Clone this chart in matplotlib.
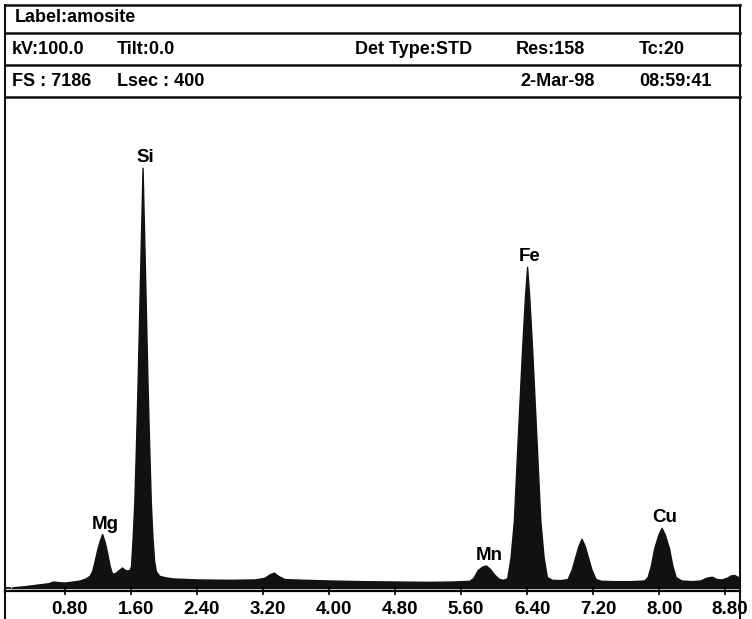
import matplotlib
matplotlib.use("Agg")
import matplotlib.pyplot as plt
from matplotlib.lines import Line2D
from matplotlib.transforms import ScaledTranslation

# spectrum (energy in keV, counts)
energy = [0.15, 0.20, 0.30, 0.40, 0.50, 0.60, 0.66, 0.72, 0.80, 0.90, 0.98, 1.05,
          1.10, 1.13, 1.16, 1.19, 1.22, 1.25, 1.28, 1.31, 1.34, 1.37, 1.41, 1.45,
          1.49, 1.53, 1.58, 1.60, 1.62, 1.64, 1.66, 1.68, 1.71, 1.74, 1.77, 1.80,
          1.82, 1.84, 1.86, 1.88, 1.90, 1.94, 2.00, 2.10, 2.40, 2.80, 3.10, 3.22,
          3.28, 3.33, 3.38, 3.46, 3.70, 4.00, 4.40, 4.80, 5.20, 5.50, 5.70, 5.75,
          5.80, 5.85, 5.90, 5.95, 6.00, 6.05, 6.10, 6.14, 6.16, 6.20, 6.24, 6.28,
          6.31, 6.34, 6.375, 6.40, 6.425, 6.46, 6.49, 6.52, 6.56, 6.60, 6.64, 6.70,
          6.80, 6.89, 6.94, 6.98, 7.02, 7.06, 7.10, 7.14, 7.18, 7.23, 7.30, 7.45,
          7.65, 7.82, 7.86, 7.90, 7.94, 7.99, 8.03, 8.07, 8.12, 8.16, 8.20, 8.27,
          8.40, 8.50, 8.57, 8.64, 8.70, 8.76, 8.82, 8.87, 8.91, 8.95, 8.98]
counts = [0, 15, 25, 40, 55, 70, 95, 85, 80, 95, 110, 140,
          180, 250, 400, 560, 690, 790, 680, 520, 330, 210, 220, 260,
          300, 260, 260, 320, 740, 1250, 2080, 3000, 4600, 6150, 4600, 3000,
          2080, 1250, 740, 400, 250, 180, 160, 140, 125, 120, 125, 150,
          200, 225, 180, 130, 120, 110, 100, 95, 90, 95, 105, 150,
          260, 310, 330, 280, 200, 140, 120, 130, 150, 450, 990, 2020,
          2770, 3520, 4280, 4700, 4280, 3520, 2770, 2020, 990, 450, 160, 120,
          115, 130, 270, 440, 610, 720, 610, 440, 270, 130, 105, 100,
          100, 110, 160, 330, 580, 780, 880, 780, 580, 330, 160, 110,
          100, 110, 150, 165, 130, 125, 150, 185, 190, 165, 140]

peak_names = ["Mg", "Si", "Mn", "Fe", "Cu"]
peak_energy = [1.25, 1.74, 5.90, 6.40, 8.03]
peak_counts = [790, 6150, 330, 4700, 880]

tick_values = [0.80, 1.60, 2.40, 3.20, 4.00, 4.80, 5.60, 6.40, 7.20, 8.00, 8.80]
tick_labels = ["0.80", "1.60", "2.40", "3.20", "4.00", "4.80", "5.60", "6.40", "7.20", "8.00", "8.80"]

header_rows = [
    [("Label:amosite", 15)],
    [("kV:100.0", 12), ("Tilt:0.0", 117), ("Det Type:STD", 355), ("Res:158", 516), ("Tc:20", 639)],
    [("FS : 7186", 12), ("Lsec : 400", 117), ("2-Mar-98", 520), ("08:59:41", 639)],
]
full_scale = 7186

W, H = 752, 619
plt.rcParams['font.family'] = ['Liberation Sans', 'DejaVu Sans']
fig = plt.figure(figsize=(W / 100, H / 100), dpi=100)

def fx(x):
    return x / W

def fy(y):
    return 1 - y / H

# plot area in pixels: x 5..740, y 97..591
ax = fig.add_axes([fx(5), fy(591), fx(740) - fx(5), fy(97) - fy(591)])
ax.fill_between(energy, 0, counts, color="#111111", lw=1.0, edgecolor="#111111")
ax.set_xlim(0.073, 8.98)
ax.set_ylim(-44, full_scale)

for name, e, c in zip(peak_names, peak_energy, peak_counts):
    ax.annotate(name, (e, c), xytext=(3, 10), textcoords="offset pixels",
                ha="center", va="center", fontsize=13.5, fontweight="bold")

ax.set_xticks(tick_values)
ax.set_xticklabels(tick_labels, fontsize=13.5, fontweight="bold")
ax.tick_params(axis="x", direction="inout", length=6, width=1.2, pad=4)
ax.set_yticks([0])
ax.set_yticklabels([])
ax.tick_params(axis="y", direction="in", length=4, width=1.2)
shift = ScaledTranslation(5 / 100, 0, fig.dpi_scale_trans)
for lab in ax.get_xticklabels():
    lab.set_transform(lab.get_transform() + shift)
    lab.set_clip_on(False)

for s in ["top", "left", "right"]:
    ax.spines[s].set_visible(False)
ax.spines["bottom"].set_linewidth(1.6)

# header frame
for y in [5, 33, 65, 97]:
    fig.add_artist(Line2D([fx(5), fx(740)], [fy(y), fy(y)], color="#111111", lw=1.8))
for x in [5, 740]:
    fig.add_artist(Line2D([fx(x), fx(x)], [fy(5), fy(619)], color="#111111", lw=1.5))

row_y = [18, 49, 81]
for row, y in zip(header_rows, row_y):
    for text, x in row:
        fig.text(fx(x), fy(y), text, ha="left", va="center", fontsize=13, fontweight="bold")

fig.savefig("out.png", dpi=100)
